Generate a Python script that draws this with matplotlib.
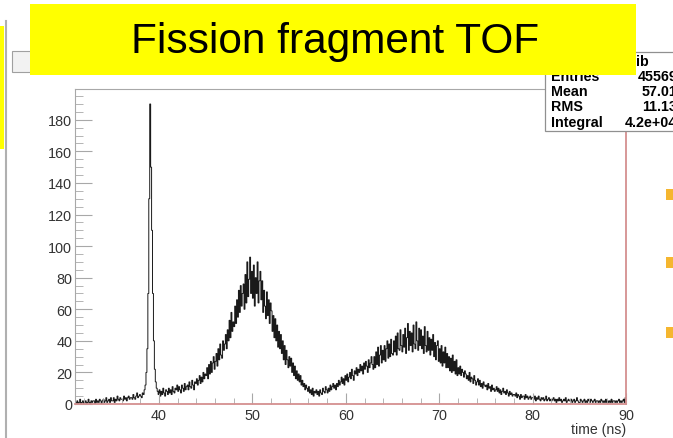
import numpy as np
import matplotlib
matplotlib.use("Agg")
import matplotlib.pyplot as plt
from matplotlib.patches import Rectangle
from matplotlib.ticker import MultipleLocator

plt.rcParams['font.family'] = ['Liberation Sans', 'DejaVu Sans']

# ---- datos del histograma (bins de 0.1 ns desde 31 ns) ----
t_start = 31.0
bin_w = 0.1
counts = [
    1, 0, 2, 0, 1, 3, 0, 1, 2, 0,            # 31
    1, 2, 0, 1, 3, 1, 0, 2, 1, 2,            # 32
    2, 0, 3, 1, 2, 1, 3, 2, 0, 2,            # 33
    3, 1, 2, 4, 1, 2, 3, 1, 4, 2,            # 34
    2, 4, 1, 3, 2, 5, 3, 2, 4, 3,            # 35
    3, 2, 5, 3, 4, 2, 4, 5, 3, 4,            # 36
    4, 3, 6, 4, 3, 5, 7, 4, 5, 6,            # 37
    5, 4, 7, 6, 9, 12, 20, 35, 70, 130,      # 38
    190, 150, 110, 70, 40, 22, 14, 10, 8, 6,  # 39
    9, 5, 8, 6, 10, 7, 5, 9, 8, 6,           # 40
    10, 7, 9, 6, 11, 8, 7, 10, 9, 12,        # 41
    8, 11, 9, 7, 12, 10, 8, 13, 9, 11,       # 42
    12, 9, 14, 11, 10, 15, 12, 9, 14, 13,    # 43
    16, 12, 15, 18, 13, 17, 14, 20, 16, 19,  # 44
    18, 23, 16, 25, 19, 27, 20, 26, 30, 22,  # 45
    27, 32, 24, 35, 28, 38, 31, 29, 40, 34,  # 46
    38, 44, 35, 47, 40, 53, 42, 58, 46, 52,  # 47
    49, 62, 51, 66, 55, 72, 58, 75, 62, 70,  # 48
    76, 60, 82, 64, 90, 68, 79, 93, 70, 84,  # 49
    67, 88, 62, 80, 70, 90, 64, 78, 84, 66,  # 50
    78, 58, 72, 62, 54, 71, 56, 66, 51, 64,  # 51
    59, 46, 56, 42, 54, 40, 50, 36, 46, 35,  # 52
    44, 32, 40, 28, 37, 25, 34, 28, 23, 30,  # 53
    24, 29, 20, 26, 18, 24, 16, 21, 15, 19,  # 54
    14, 18, 12, 15, 11, 13, 9, 12, 10, 8,    # 55
    11, 7, 9, 6, 10, 5, 8, 7, 9, 6,          # 56
    8, 5, 9, 7, 6, 10, 8, 7, 11, 9,          # 57
    7, 10, 8, 12, 9, 11, 13, 10, 12, 9,      # 58
    13, 11, 15, 12, 14, 17, 13, 16, 12, 18,  # 59
    15, 19, 14, 17, 20, 16, 22, 18, 15, 21,  # 60
    19, 23, 18, 22, 20, 25, 21, 24, 19, 26,  # 61
    22, 27, 24, 20, 28, 23, 26, 30, 25, 22,  # 62
    30, 23, 33, 25, 36, 24, 31, 37, 26, 34,  # 63
    28, 37, 27, 35, 40, 29, 38, 30, 41, 32,  # 64
    31, 40, 33, 43, 31, 45, 35, 34, 47, 37,  # 65
    33, 44, 36, 48, 32, 42, 51, 34, 46, 37,  # 66
    45, 33, 50, 38, 35, 52, 40, 34, 48, 37,  # 67
    47, 35, 43, 32, 49, 37, 33, 46, 34, 42,  # 68
    31, 41, 34, 44, 30, 39, 28, 37, 40, 27,  # 69
    35, 26, 37, 24, 33, 26, 36, 23, 32, 23,  # 70
    30, 21, 29, 20, 31, 21, 27, 19, 28, 18,  # 71
    23, 19, 24, 18, 22, 20, 17, 21, 19, 16,  # 72
    18, 15, 20, 14, 17, 16, 13, 18, 15, 12,  # 73
    14, 16, 12, 15, 11, 13, 10, 14, 12, 11,  # 74
    12, 9, 13, 10, 11, 8, 12, 9, 10, 8,      # 75
    9, 11, 8, 10, 7, 9, 6, 8, 10, 7,         # 76
    8, 6, 9, 7, 5, 8, 6, 7, 5, 6,            # 77
    6, 5, 7, 4, 6, 5, 3, 6, 4, 5,            # 78
    5, 3, 6, 4, 5, 3, 4, 5, 3, 4,            # 79
    4, 3, 5, 2, 4, 3, 5, 3, 2, 4,            # 80
    3, 4, 2, 3, 5, 2, 3, 4, 2, 3,            # 81
    2, 3, 4, 2, 3, 1, 3, 2, 4, 2,            # 82
    3, 1, 2, 3, 2, 4, 1, 2, 3, 2,            # 83
    2, 3, 1, 2, 3, 1, 2, 4, 2, 1,            # 84
    1, 3, 2, 1, 2, 3, 1, 2, 1, 3,            # 85
    2, 1, 3, 2, 1, 2, 3, 1, 2, 2,            # 86
    1, 2, 1, 3, 2, 1, 2, 1, 3, 1,            # 87
    2, 1, 2, 1, 3, 1, 2, 2, 1, 2,            # 88
    1, 2, 3, 1, 2, 1, 2, 3, 1, 4,            # 89
]

titulo = "Fission fragment TOF"
stats_labels = ["Entries", "Mean", "RMS", "Integral"]
stats_values = ["45569", "57.01", "11.13", "4.2e+04"]
x_label = "time (ns)"

# =========================

W, H = 673, 439
fig = plt.figure(figsize=(W / 100, H / 100), dpi=100)
fig.patch.set_facecolor("white")

edges = t_start + bin_w * np.arange(len(counts) + 1)

ax = fig.add_axes([75 / W, 1 - 405 / H, 551 / W, 315 / H])
ax.stairs(counts, edges, color="#1a1a1a", lw=0.7)
ax.set_xlim(31, 90)
ax.set_ylim(0, 199.5)

for s in ["left", "top"]:
    ax.spines[s].set_color("#a8a8a8")
for s in ["right", "bottom"]:
    ax.spines[s].set_color("#d49090")
    ax.spines[s].set_linewidth(1.3)

ax.xaxis.set_major_locator(MultipleLocator(10))
ax.xaxis.set_minor_locator(MultipleLocator(2))
ax.yaxis.set_major_locator(MultipleLocator(20))
ax.yaxis.set_minor_locator(MultipleLocator(5))
ax.tick_params(axis="both", which="both", direction="in", color="#a8a8a8",
               labelcolor="#333333", labelsize=10.4)
ax.tick_params(axis="y", which="major", length=12, pad=2)
ax.tick_params(axis="y", which="minor", length=6)
ax.tick_params(axis="x", which="major", length=8, pad=3)
ax.tick_params(axis="x", which="minor", length=4)
ax.set_xlabel(x_label, fontsize=10.2, color="#333333", loc="right", labelpad=0)

# ---- capa de diapositiva (coordenadas en pixeles) ----
ov = fig.add_axes([0, 0, 1, 1], zorder=10)
ov.set_xlim(0, W)
ov.set_ylim(H, 0)
ov.axis("off")
ov.patch.set_visible(False)

# borde izquierdo de la ventana
ov.add_patch(Rectangle((0, 27), 4, 123, color="#ffff00", lw=0))
ov.plot([5.5, 5.5], [22, H], color="#b0b0b0", lw=1.5)

# barra gris del canvas
ov.add_patch(Rectangle((12, 52), 600, 21, facecolor="#f2f2f2",
                       edgecolor="#a0a0a0", lw=0.8))

# caja de estadisticas
ov.add_patch(Rectangle((545, 53), 140, 79, facecolor="white",
                       edgecolor="#909090", lw=0.9, zorder=2))
ov.text(636, 62, "ib", fontsize=10.3, fontweight="bold", va="center",
        ha="left", zorder=3)
for i, (lab, val) in enumerate(zip(stats_labels, stats_values)):
    y = 77 + 15.2 * i
    ov.text(551, y, lab, fontsize=10.3, fontweight="bold", va="center",
            ha="left", zorder=3)
    ov.text(677, y, val, fontsize=10.3, fontweight="bold", va="center",
            ha="right", zorder=3)

# titulo amarillo
ov.add_patch(Rectangle((30, 5), 606, 71, color="#ffff00", lw=0, zorder=5))
ov.text(335, 42, titulo, fontsize=30.5, ha="center", va="center",
        color="black", zorder=6)

# viñetas naranjas
for yb in [190, 258, 328]:
    ov.add_patch(Rectangle((666, yb), 8, 11, color="#f5b62f", lw=0))

fig.savefig("out.png", dpi=100)
